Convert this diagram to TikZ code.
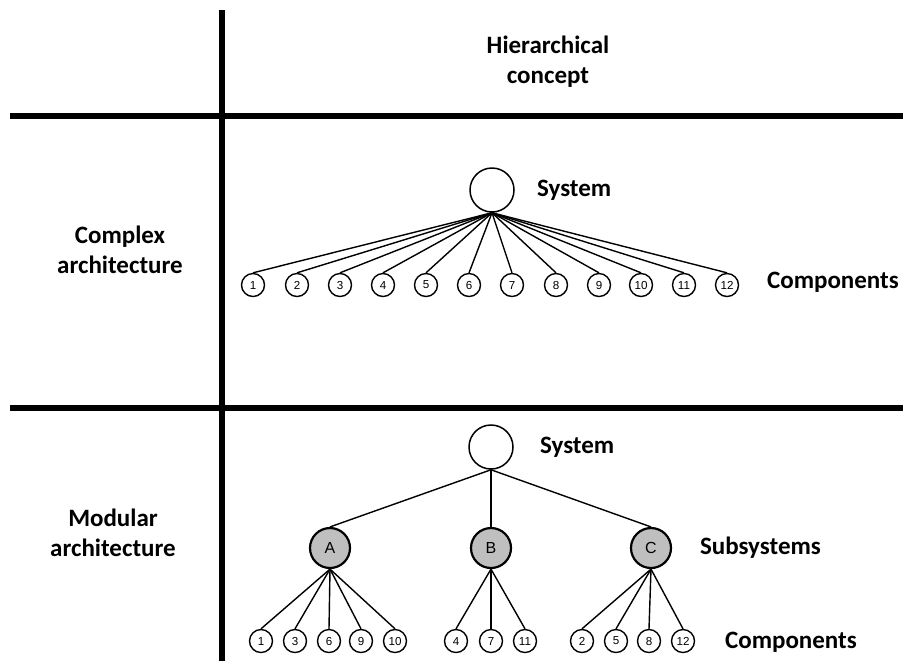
\documentclass[tikz,border=0pt]{standalone}
\usepackage{fontspec}
\setmainfont{Carlito}
\newfontfamily\circfont{Liberation Sans}
\usepackage{tikz}

\tikzset{
	rule/.style={line width=2.6pt},
	sys/.style={circle,draw,line width=0.75pt,minimum size=22pt,inner sep=0pt},
	sub/.style={circle,draw,line width=1.1pt,fill=black!25,minimum size=20pt,inner sep=0pt,font=\circfont\fontsize{8}{8}\selectfont},
	comp/.style={circle,draw,line width=0.7pt,minimum size=11.5pt,inner sep=0pt,font=\circfont\fontsize{5.8}{6}\selectfont},
	lbl/.style={font=\bfseries\fontsize{12.5}{15}\selectfont,align=center},
	link/.style={line width=0.7pt}
}

\begin{document}
\begin{tikzpicture}[x=0.5pt,y=-0.5pt]
		\useasboundingbox (0,0) rectangle (903,661);
%		grid lines
		\draw[rule] (222,10) -- (222,661);
		\draw[rule] (10,116) -- (903,116);
		\draw[rule] (10,408) -- (903,408);

		\path (548,62) node[lbl] (head) {Hierarchical\\concept};
		\path (120,250) node[lbl] (complex) {Complex\\architecture};
		\path (113,533) node[lbl] (modular) {Modular\\architecture};

		% complex architecture
		\path (492,190) node[sys] (sys1) {};
		\path (530,190) node[lbl,anchor=west] (sys1lbl) {System};
		\path (253,285) node[comp] (c1) {1};
		\path (297,285) node[comp] (c2) {2};
		\path (340,285) node[comp] (c3) {3};
		\path (383,285) node[comp] (c4) {4};
		\path (426,285) node[comp] (c5) {5};
		\path (469,285) node[comp] (c6) {6};
		\path (512,285) node[comp] (c7) {7};
		\path (556,285) node[comp] (c8) {8};
		\path (599,285) node[comp] (c9) {9};
		\path (641,285) node[comp] (c10) {10};
		\path (684,285) node[comp] (c11) {11};
		\path (727,285) node[comp] (c12) {12};
		\path (760,282) node[lbl,anchor=west] (comp1lbl) {Components};
		\foreach \i in {1,...,12}
			\draw[link] (sys1.south) -- (c\i.north);

		% modular architecture
		\path (491,447) node[sys] (sys2) {};
		\path (533,447) node[lbl,anchor=west] (sys2lbl) {System};
		\path (330,548) node[sub] (subA) {A};
		\path (491,548) node[sub] (subB) {B};
		\path (651,548) node[sub] (subC) {C};
		\path (693,548) node[lbl,anchor=west] (sublbl) {Subsystems};
		\draw[link] (sys2.south) -- (subA.north);
		\draw[link] (sys2.south) -- (subB.north);
		\draw[link] (sys2.south) -- (subC.north);

		\path (261,641) node[comp] (a1) {1};
		\path (295,641) node[comp] (a3) {3};
		\path (329,641) node[comp] (a6) {6};
		\path (361,641) node[comp] (a9) {9};
		\path (395,641) node[comp] (a10) {10};
		\path (456,641) node[comp] (b4) {4};
		\path (491,641) node[comp] (b7) {7};
		\path (525,641) node[comp] (b11) {11};
		\path (582,641) node[comp] (k2) {2};
		\path (616,641) node[comp] (k5) {5};
		\path (649,641) node[comp] (k8) {8};
		\path (683,641) node[comp] (k12) {12};
		\path (718,642) node[lbl,anchor=west] (comp2lbl) {Components};
		\foreach \n in {a1,a3,a6,a9,a10}
			\draw[link] (subA.south) -- (\n.north);
		\foreach \n in {b4,b7,b11}
			\draw[link] (subB.south) -- (\n.north);
		\foreach \n in {k2,k5,k8,k12}
			\draw[link] (subC.south) -- (\n.north);
	\end{tikzpicture}
\end{document}
